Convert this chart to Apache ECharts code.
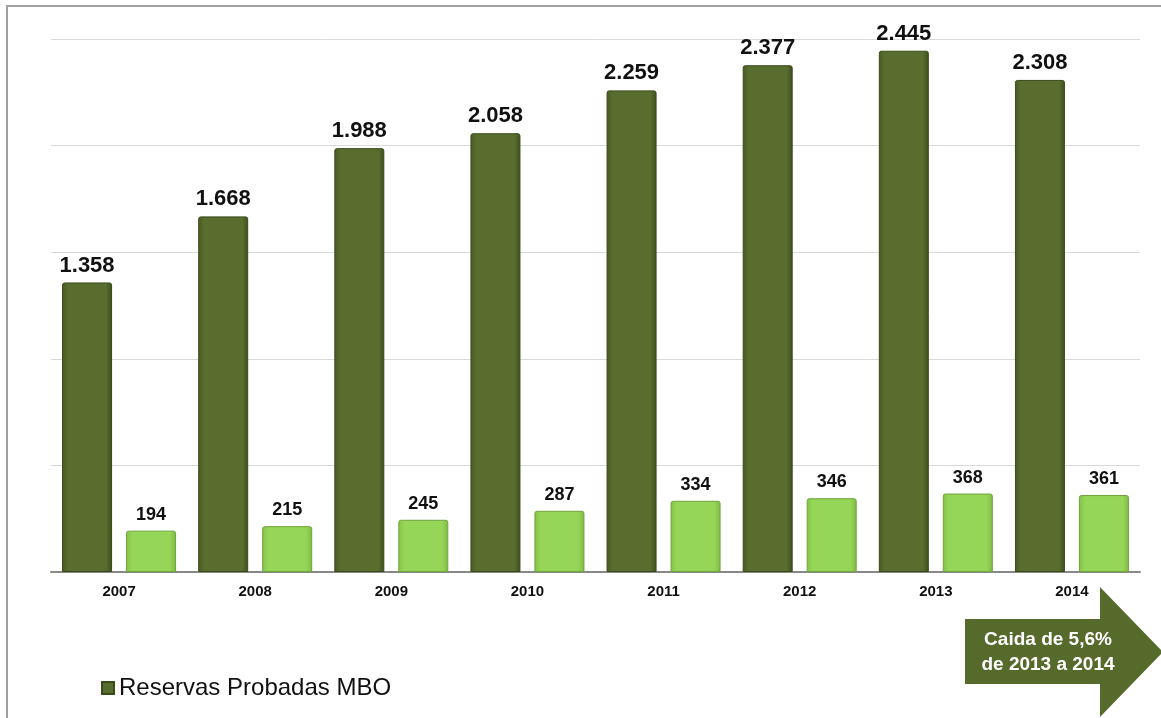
<!DOCTYPE html>
<html>
<head>
<meta charset="utf-8">
<script src="https://cdn.jsdelivr.net/npm/echarts@6/dist/echarts.min.js"></script>
<style>
html,body{margin:0;padding:0;background:#fff;}
#c{width:1161px;height:718px;}
</style>
</head>
<body>
<div id="c"></div>
<script>
var categories = ['2007','2008','2009','2010','2011','2012','2013','2014'];
var reservasProbadas = [1358, 1668, 1988, 2058, 2259, 2377, 2445, 2308];
var serieSecundaria = [194, 215, 245, 287, 334, 346, 368, 361];
var legendName = 'Reservas Probadas MBO';
var arrowLines = ['Caida de 5,6%', 'de 2013 a 2014'];

function fmt(v){
  return String(v).replace(/\B(?=(\d{3})+(?!\d))/g, '.');
}

var chart = echarts.init(document.getElementById('c'), null, {renderer:'canvas'});
var darkFill = new echarts.graphic.LinearGradient(0,0,1,0,[
  {offset:0,color:'#485b22'},{offset:0.12,color:'#586d2e'},
  {offset:0.88,color:'#586d2e'},{offset:1,color:'#3e4f1c'}]);
var lightFill = new echarts.graphic.LinearGradient(0,0,1,0,[
  {offset:0,color:'#86c24a'},{offset:0.12,color:'#95d557'},
  {offset:0.88,color:'#95d557'},{offset:1,color:'#7fb844'}]);

chart.setOption({
  animation:false,
  grid:{left:51,right:21,top:39,bottom:146,containLabel:false},
  legend:{
    data:[legendName],
    left:96, top:671,
    itemWidth:12, itemHeight:12, itemGap:6,
    textStyle:{fontFamily:'Liberation Sans, Arial, sans-serif',fontSize:24,color:'#111'},
    icon:'rect'
  },
  xAxis:{
    type:'category',
    data:categories,
    axisLine:{lineStyle:{color:'#888',width:2}},
    axisTick:{show:false},
    axisLabel:{fontFamily:'Liberation Sans, Arial, sans-serif',fontWeight:'bold',fontSize:15,color:'#111',margin:12}
  },
  yAxis:{
    type:'value',
    min:0,max:2500,interval:500,
    axisLabel:{show:false},
    axisLine:{show:false},
    axisTick:{show:false},
    splitLine:{lineStyle:{color:'#d9d9d9',width:1}}
  },
  series:[
    {
      name:legendName,
      type:'bar',
      data:reservasProbadas,
      barWidth:50,
      barGap:'28%',
      itemStyle:{color:darkFill,borderColor:'#3a4a1a',borderWidth:1,borderRadius:[2,2,0,0]},
      label:{show:true,position:'top',distance:6,formatter:function(p){return fmt(p.value);},
        fontFamily:'Liberation Sans, Arial, sans-serif',fontWeight:'bold',fontSize:22,color:'#111'}
    },
    {
      name:'serie2',
      type:'bar',
      data:serieSecundaria,
      barWidth:50,
      itemStyle:{color:lightFill,borderColor:'#6fa53a',borderWidth:1,borderRadius:[2,2,0,0]},
      label:{show:true,position:'top',distance:7,formatter:function(p){return fmt(p.value);},
        fontFamily:'Liberation Sans, Arial, sans-serif',fontWeight:'bold',fontSize:18,color:'#111'}
    }
  ],
  graphic:[
    {type:'polyline',shape:{points:[[1161,6],[7,6],[7,718]]},style:{stroke:'#a0a0a0',lineWidth:2,fill:null},silent:true},
    {type:'polygon',shape:{points:[[965,619],[1100,619],[1100,587],[1163,652],[1100,717],[1100,684],[965,684]]},
      style:{fill:'#566a2c'},silent:true},
    {type:'text',style:{text:arrowLines.join('\n'),x:1048,y:652,align:'center',verticalAlign:'middle',
      fill:'#fff',font:'bold 19px "Liberation Sans", Arial, sans-serif',lineHeight:25},silent:true}
  ]
});
</script>
</body>
</html>
